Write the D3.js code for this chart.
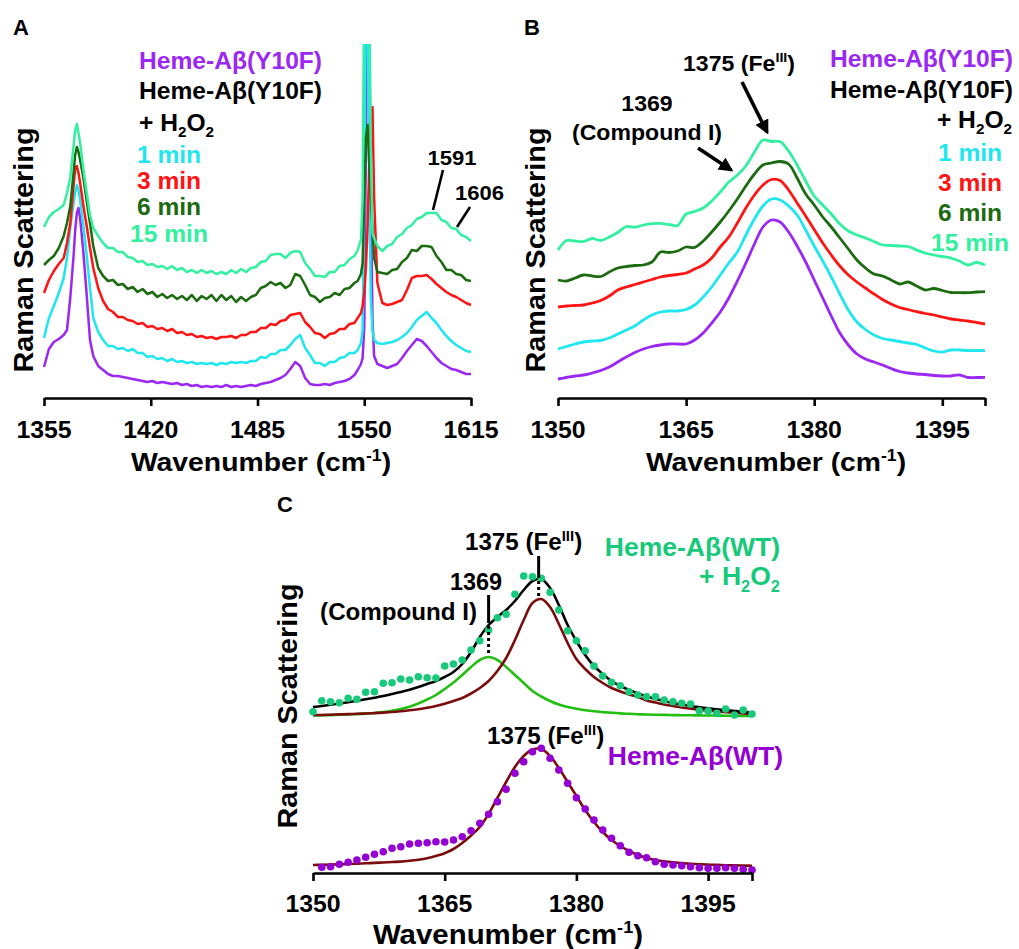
<!DOCTYPE html>
<html><head><meta charset="utf-8">
<script src="https://cdn.jsdelivr.net/npm/d3@7/dist/d3.min.js"></script>
<style>body{margin:0;background:#fff}</style>
</head><body>
<svg id="c" width="1019" height="949" xmlns="http://www.w3.org/2000/svg"></svg>
<script>
// ---------------- DATA ----------------
// Panel A: wavenumber grid (cm-1) and intensities (arbitrary units, offset traces)
const waveA = [1355,1358,1361,1364,1367,1369,1371,1373,1374,1375,1376,1377,1379,1381,1383,1385,1388,
 1391,1394,1397,1400,1403,1406,1409,1412,1415,1418,1421,1424,1427,1430,1433,1436,1439,1442,1445,1448,
 1451,1454,1457,1460,1463,1466,1469,1472,1475,1478,1481,1484,1487,1490,1493,1496,1499,1502,1505,1508,
 1511,1514,1517,1520,1523,1526,1529,1532,1535,1538,1541,1544,
 1546,1548,1549,1550,1551,1552,1553,1554,1555,1556,1558,
 1561,1564,1567,1570,1573,1576,1579,1582,1585,1588,1591,1594,1597,1600,1603,1606,1609,1612,1615];
const aPurple = [31,49,56,59,63,68,100,142,168,185,190,180,145,103,58,42,32,
 28,24,22,22,21,20,19,18,17,16,17,15,16,15,14,15,13,14,12,13,11,12,11,12,11,13,11,12,11,12,
 13,12,14,15,16,18,20,23,29,36,32,20,14,13,13,14,13,15,16,17,19,23,
 28,34,40,70,250,420,380,200,80,42,34,
 32,30,32,34,40,47,53,59,57,52,46,40,35,32,29,28,26,24,24];
const aCyan = [60,80,92,105,120,140,170,195,205,213,208,198,172,143,110,80,66,
 58,52,52,49,50,47,49,45,45,41,42,39,40,37,39,36,37,35,36,34,35,34,35,33,35,34,36,35,36,35,
 37,37,41,40,44,44,48,48,53,59,63,50,43,35,35,32,36,36,40,41,45,45,
 48,55,68,200,420,400,220,100,68,58,55,
 54,55,56,58,61,65,71,78,82,86,80,75,68,62,57,53,50,47,46];
const aRed = [105,118,127,134,140,155,175,212,230,232,225,215,192,172,150,130,110,
 97,89,86,81,81,78,77,74,75,71,72,69,70,67,69,65,66,63,64,61,62,60,61,59,61,61,62,60,63,63,
 66,66,70,70,74,73,77,78,83,84,85,76,71,65,64,60,64,65,69,69,74,75,
 80,85,92,105,130,170,230,280,291,200,115,
 95,93,94,96,98,108,120,122,122,123,119,114,110,106,103,101,98,95,93];
const aDarkGreen = [133,138,142,150,162,175,192,225,243,251,246,238,220,197,175,152,130,
 122,117,118,113,114,109,111,106,109,104,106,101,104,100,103,99,102,98,103,97,102,99,103,97,103,98,102,96,101,97,
 101,103,110,112,116,113,115,110,113,124,122,113,103,101,96,100,101,105,103,109,110,115,
 117,124,135,200,260,273,235,200,170,140,126,
 125,124,128,129,136,140,148,147,152,152,151,142,136,128,128,124,123,118,117];
const aLightGreen = [171,181,186,189,193,205,220,252,268,274,265,255,228,205,183,170,162,
 155,150,150,146,146,141,140,136,137,133,134,131,132,129,132,128,130,126,128,125,128,125,127,124,126,124,128,125,129,126,
 130,131,136,137,143,144,144,140,145,147,146,135,129,122,122,121,126,126,132,133,139,142,
 148,158,200,420,420,420,420,250,165,160,152,
 147,152,154,161,164,170,173,179,181,185,185,185,178,176,170,169,163,161,157];
const ticksA = [1355,1420,1485,1550,1615];

// Panel B
const waveB = [1350,1351,1352,1353,1354,1355,1356,1357,1358,1359,1360,1361,1362,1363,1364,1365,1366,1367,1368,1369,
 1370,1371,1372,1373,1374,1375,1376,1377,1378,1379,1380,1381,1382,1383,1384,1385,1386,1387,1388,1389,
 1390,1391,1392,1393,1394,1395,1396,1397,1398,1399,1400];
const bPurple = [19,20.5,22,23,25,27.5,31,36,41,45.5,49,51.5,53,54,54,54,58,65,75,86,
 100,117,135,154,171,178,176,166,152,136,118,100,82,65,53,44,39,36,33,29.5,
 26.5,25,24,23.5,22.5,22,22,23,20.5,20.5,20.7];
const bCyan = [49,51.5,54,56,57,57.5,60,64,68,72,78,83,86,87,87,88.5,93,101,111,123,
 135,146,163,179,192,199,198,192,183,168,152,137,121,104,88,76,68.5,63,59.5,58,
 56.5,55,53.5,50,47,46,48,48,47.5,47.5,47.3];
const bRed = [91,92,92.5,93,95,97.5,102,108,111,113.5,116,118.5,121,122.5,123.5,125,129,133,140,151,
 161,175,190,203,213,218.5,217.5,208,195,182,168.5,155,143,132,123,116,110,104,98.5,94,
 90.5,88.5,86.3,84.5,83,81,79,78,77,75.5,74];
const bDarkGreen = [118,117,120,123,122,121.5,126,130,131.5,132.5,133,136,146,145.5,147,151,150.5,157,166,176,
 187,199,212,224,233,235,236.5,234,220,204,193,181,171,160,149,138,130,124,122,118,
 114,116,112,108,109.5,107.5,105.5,105.3,105.3,106,106.3];
const bLightGreen = [148,157.5,157,156.5,159.5,157.5,161,165.5,171.5,170.8,173,174.3,174.6,173.5,172.5,184,186.5,190,197,206,
 216,223,232,246,258,256.5,256.5,247,233,217,202,193,184,174,167,163,160,156.5,153,152.5,
 152,151.5,148,145,143,141.5,140,137,133,135.5,133];
const ticksB = [1350,1365,1380,1395];

// Panel C
const waveDotsTop = [1350,1351,1352,1353,1354,1355,1356,1357,1358,1359,1360,1361,1362,1363,1364,1365,1366,1367,1368,1369,
 1370,1371,1372,1373,1374,1375,1376,1377,1378,1379,1380,1381,1382,1383,1384,1385,1386,1387,1388,1389,
 1390,1391,1392,1393,1394,1395,1396,1397,1398,1399,1400];
const cTopDots = [161.3,172.3,171.3,170.3,174.7,173.7,180.7,181.3,189.7,190.3,194,193,196.3,195.3,195,207,209,213,223,232.3,
 243,255.3,258.7,278.7,297,296.3,294.7,280.7,263,242.3,232.3,222.3,207,197,190.7,187.3,181.3,178,176.3,176.3,
 173,171.3,169.7,169,162.3,162,159.7,164,158,163,159];
const waveDotsBottom = [1351,1352,1353,1354,1355,1356,1357,1358,1359,1360,1361,1362,1363,1364,1365,1366,1367,1368,1369,1370,
 1371,1372,1373,1374,1375,1376,1377,1378,1379,1380,1381,1382,1383,1384,1385,1386,1387,1388,1389,1390,
 1391,1392,1393,1394,1395,1396,1397,1398,1399,1400];
const cBottomDots = [5.7,6.3,8.7,10.7,13,15.7,18.7,21.3,24.7,26.3,29,29.7,30.3,31.3,31,33,36.3,42.3,49.7,58.7,
 71.3,83.7,99.7,111.3,121.3,124.7,114.7,103,89.7,75.3,64,53,43,34.7,27.3,20.7,17.3,15.3,11.3,8.7,
 8,7.3,6.3,5.3,4.7,4.7,5.3,4.7,3.7,3];
const waveFit = waveDotsTop;
const fitTopSum = [166,167,168.2,169.5,170.8,172.2,173.7,175.3,177,179,181,183.3,186,189,192,196,201,209,221,236,
 248,256,263,272,283,292,294,285,268,248,232,218,207,199,192,187,183,179.5,176.5,174,
 172,170,168.5,167,165.8,164.7,163.7,162.8,162,161.2,160.5];
const fitTop1375 = [158,158,158.3,158.6,158.9,159.2,159.5,159.9,160.4,161,161.8,162.7,163.8,165.2,167,169.3,172,175,179.5,185,
 192,202,215,233,253,270,274,266,249,230,214,204,196,190,185,181.5,178.5,176,172.5,170.5,
 168.5,167,165.5,164.3,163.3,162.3,161.5,160.8,160.2,159.6,159.2];
const fitTop1369 = [157.5,157.7,157.9,158.2,158.5,158.9,159.4,160,161,162.3,164,166.3,169.5,173.5,178,184,190.5,198,206,213,
 216,213,206,198,190,182,176.5,172,168.5,166,164.2,162.8,161.7,160.9,160.2,159.6,159.2,158.8,158.5,158.3,
 158.1,157.9,157.8,157.7,157.6,157.5,157.4,157.3,157.2,157.1,157];
const fitBottom1375 = [8,8.2,8.4,8.7,9,9.3,9.7,10.1,10.5,11,11.4,12.2,13.3,14.8,17,19.8,24,30,37.5,46,
 59,75,91,106,117,123.5,124,117,105,91,77,63,51,41,33,27,22,18,15,13,
 11.6,10.6,9.9,9.3,8.8,8.4,8.1,7.8,7.6,7.4,7.3];
const ticksC = [1350,1365,1380,1395];
const bandFe = 1375.7, bandCpd = 1370;

// ---------------- STYLE ----------------
const COL = {purple:"#9b27f2", cyan:"#1fe6ef", red:"#ff1414", dgreen:"#1c6b11", lgreen:"#33f0a0",
  cPurple:"#9400d3", cGreen:"#17c97a", fitGreen:"#22bf12", fitRed:"#7b0c0c"};
const FONT = '"Liberation Sans", Arial, Helvetica, sans-serif';
const svg = d3.select("#c");

function label(g, x, y, parts, o = {}) {
  const size = o.size || 23;
  const t = g.append("text")
    .attr("transform", `translate(${x},${y}) rotate(${o.rot || 0}) scale(${o.sx || 1},1)`)
    .attr("text-anchor", o.anchor || "start")
    .attr("font-size", size).attr("font-weight", "bold")
    .attr("font-family", FONT).attr("fill", o.color || "#000");
  let cur = 0;
  (typeof parts === "string" ? [[parts, ""]] : parts).forEach(([s, k]) => {
    const target = k === "sub" ? 0.28 * size : k === "sup" ? -0.4 * size : 0;
    const ts = t.append("tspan").text(s);
    if (target !== cur) ts.attr("dy", target - cur);
    if (k) ts.attr("font-size", size * 0.62);
    cur = target;
  });
  return t;
}

function drawAxis(g, x, y0, tickVals, labelVals, o) {
  const ax = g.append("g").attr("transform", `translate(0,${y0})`)
    .call(d3.axisBottom(x).tickValues(tickVals).tickSize(8).tickSizeOuter(0).tickFormat(""));
  ax.select(".domain").attr("stroke", "#000").attr("stroke-width", 2.6);
  ax.selectAll(".tick line").attr("stroke", "#000").attr("stroke-width", 2.6);
  labelVals.forEach(v => label(g, x(v), o.tickY, String(v), {anchor: "middle", size: 23, sx: 1.08}));
  label(g, o.titleX, o.titleY, [["Wavenumber (cm", ""], ["-1", "sup"], [")", ""]], {anchor: "middle", size: o.titleSize || 26, sx: 1.09});
  label(g, o.yTitleX, o.yTitleY, "Raman Scattering", {anchor: "middle", size: 28, sx: 1.03, rot: -90});
}

function drawLines(g, x, y, wave, series, width, curve) {
  const line = d3.line().x((d, i) => x(wave[i])).y(d => y(d)).curve(curve);
  series.forEach(([vals, color]) => {
    g.append("path").datum(vals).attr("d", line).attr("fill", "none")
      .attr("stroke", color).attr("stroke-width", width).attr("stroke-linejoin", "round");
  });
}

// ---------------- PANEL A ----------------
const xA = d3.scaleLinear([1355, 1615], [44, 471]);
const yA = d3.scaleLinear([0, 353], [398, 45]);
const gA = svg.append("g");
svg.append("clipPath").attr("id", "clipA").append("rect").attr("x", 40).attr("y", 44).attr("width", 436).attr("height", 356);
drawLines(gA.append("g").attr("clip-path", "url(#clipA)"), xA, yA, waveA,
  [[aPurple, COL.purple], [aCyan, COL.cyan], [aRed, COL.red], [aDarkGreen, COL.dgreen], [aLightGreen, COL.lgreen]],
  2.5, d3.curveLinear);
drawAxis(gA, xA, 398, ticksA, ticksA, {tickY: 438, titleX: 261, titleY: 471, yTitleX: 33, yTitleY: 250});
label(gA, 13, 35, "A", {size: 22});
label(gA, 139, 69, "Heme-Aβ(Y10F)", {color: COL.purple, sx: 1.07});
label(gA, 139, 99, "Heme-Aβ(Y10F)", {sx: 1.07});
label(gA, 139, 131, [["+ H", ""], ["2", "sub"], ["O", ""], ["2", "sub"]], {sx: 1.07});
label(gA, 169, 163, "1 min", {color: COL.cyan, anchor: "middle", sx: 1.07});
label(gA, 169, 189, "3 min", {color: COL.red, anchor: "middle", sx: 1.07});
label(gA, 169, 215, "6 min", {color: COL.dgreen, anchor: "middle", sx: 1.07});
label(gA, 169, 242, "15 min", {color: COL.lgreen, anchor: "middle", sx: 1.07});
label(gA, 452, 165, "1591", {anchor: "middle", size: 21, sx: 1.05});
label(gA, 455, 200, "1606", {size: 21, sx: 1.05});
gA.append("line").attr("x1", 443).attr("y1", 170).attr("x2", 433).attr("y2", 210).attr("stroke", "#000").attr("stroke-width", 2.6);
gA.append("line").attr("x1", 470).attr("y1", 207).attr("x2", 457).attr("y2", 227).attr("stroke", "#000").attr("stroke-width", 2.6);

// ---------------- PANEL B ----------------
const xB = d3.scaleLinear([1350, 1400], [558, 985]);
const yB = d3.scaleLinear([0, 353], [398, 45]);
const gB = svg.append("g");
drawLines(gB, xB, yB, waveB,
  [[bPurple, COL.purple], [bCyan, COL.cyan], [bRed, COL.red], [bDarkGreen, COL.dgreen], [bLightGreen, COL.lgreen]],
  2.8, d3.curveCatmullRom);
drawAxis(gB, xB, 398, ticksB.concat([1400]), ticksB, {tickY: 438, titleX: 776, titleY: 471, yTitleX: 545, yTitleY: 250});
label(gB, 524, 35, "B", {size: 22});
label(gB, 1013, 67, "Heme-Aβ(Y10F)", {color: COL.purple, anchor: "end", sx: 1.07});
label(gB, 1013, 98, "Heme-Aβ(Y10F)", {anchor: "end", sx: 1.07});
label(gB, 1012, 128, [["+ H", ""], ["2", "sub"], ["O", ""], ["2", "sub"]], {anchor: "end", sx: 1.07});
label(gB, 970, 161, "1 min", {color: COL.cyan, anchor: "middle", sx: 1.07});
label(gB, 970, 191, "3 min", {color: COL.red, anchor: "middle", sx: 1.07});
label(gB, 970, 221, "6 min", {color: COL.dgreen, anchor: "middle", sx: 1.07});
label(gB, 970, 251, "15 min", {color: COL.lgreen, anchor: "middle", sx: 1.07});
label(gB, 683, 71, [["1375 (Fe", ""], ["III", "sup"], [")", ""]], {size: 22, sx: 1.05});
label(gB, 647, 111, "1369", {anchor: "middle", size: 22, sx: 1.05});
label(gB, 647, 140, "(Compound I)", {anchor: "middle", size: 22, sx: 1.05});
const defs = svg.append("defs");
defs.append("marker").attr("id", "arr").attr("viewBox", "0 0 10 10").attr("refX", 8).attr("refY", 5)
  .attr("markerWidth", 4).attr("markerHeight", 4).attr("orient", "auto")
  .append("path").attr("d", "M0,0 L10,5 L0,10 z").attr("fill", "#000");
gB.append("line").attr("x1", 742).attr("y1", 82).attr("x2", 767).attr("y2", 132)
  .attr("stroke", "#000").attr("stroke-width", 3.6).attr("marker-end", "url(#arr)");
gB.append("line").attr("x1", 698).attr("y1", 148).attr("x2", 731).attr("y2", 170)
  .attr("stroke", "#000").attr("stroke-width", 3.6).attr("marker-end", "url(#arr)");

// ---------------- PANEL C ----------------
const xC = d3.scaleLinear([1350, 1400], [313, 752]);
const yC = d3.scaleLinear([0, 300], [873, 573]);
const gC = svg.append("g");
drawLines(gC, xC, yC, waveFit,
  [[fitTop1369, COL.fitGreen], [fitTop1375, COL.fitRed], [fitTopSum, "#000"], [fitBottom1375, COL.fitRed]],
  2.6, d3.curveCatmullRom);
gC.selectAll("circle.t").data(cTopDots).join("circle").attr("class", "t")
  .attr("cx", (d, i) => xC(waveDotsTop[i])).attr("cy", d => yC(d)).attr("r", 3.8).attr("fill", COL.cGreen);
gC.selectAll("circle.b").data(cBottomDots).join("circle").attr("class", "b")
  .attr("cx", (d, i) => xC(waveDotsBottom[i])).attr("cy", d => yC(d)).attr("r", 3.8).attr("fill", COL.cPurple);
drawAxis(gC, xC, 873, ticksC.concat([1400]), ticksC, {tickY: 912, titleX: 508, titleY: 944, titleSize: 27, yTitleX: 297, yTitleY: 706});
label(gC, 277, 512, "C", {size: 22});
// annotation lines
const xf = xC(bandFe), xc = xC(bandCpd);
gC.append("line").attr("x1", xf).attr("x2", xf).attr("y1", 556).attr("y2", 578).attr("stroke", "#000").attr("stroke-width", 3);
gC.append("line").attr("x1", xf).attr("x2", xf).attr("y1", 581).attr("y2", 598).attr("stroke", "#000").attr("stroke-width", 3).attr("stroke-dasharray", "3,3");
gC.append("line").attr("x1", xc).attr("x2", xc).attr("y1", 595).attr("y2", 623).attr("stroke", "#000").attr("stroke-width", 3);
gC.append("line").attr("x1", xc).attr("x2", xc).attr("y1", 626).attr("y2", 656).attr("stroke", "#000").attr("stroke-width", 3).attr("stroke-dasharray", "3,3");
label(gC, 465, 550, [["1375 (Fe", ""], ["III", "sup"], [")", ""]], {size: 23, sx: 1.05});
label(gC, 476, 590, "1369", {anchor: "middle", size: 23, sx: 1.02});
label(gC, 477, 620, "(Compound I)", {anchor: "end", size: 23, sx: 1.05});
label(gC, 487, 744, [["1375 (Fe", ""], ["III", "sup"], [")", ""]], {size: 23, sx: 1.05});
label(gC, 780, 556, "Heme-Aβ(WT)", {color: COL.cGreen, anchor: "end", size: 26, sx: 1.02});
label(gC, 780, 585, [["+ H", ""], ["2", "sub"], ["O", ""], ["2", "sub"]], {color: COL.cGreen, anchor: "end", size: 26, sx: 1.02});
label(gC, 783, 765, "Heme-Aβ(WT)", {color: COL.cPurple, anchor: "end", size: 26, sx: 1.02});
</script>
</body></html>
